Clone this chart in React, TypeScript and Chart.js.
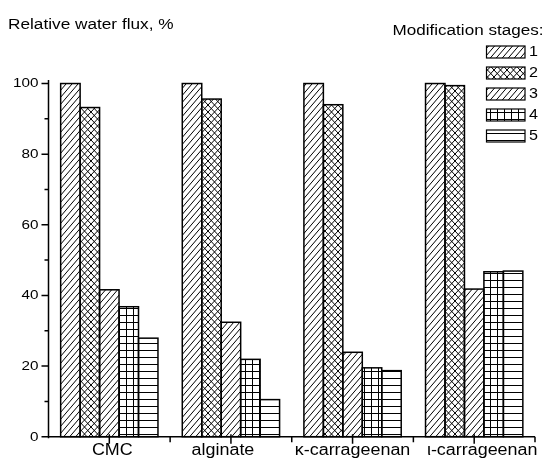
import { useEffect, useRef } from "react";
import { Chart, registerables } from "chart.js";

Chart.register(...registerables);

// ---- data ----
const categories = ["CMC", "alginate", "\u03BA-carrageenan", "\u03B9-carrageenan"];
const stageLabels = ["1", "2", "3", "4", "5"];
const stage1 = [100, 100, 100, 100];
const stage2 = [93.2, 95.6, 94.0, 99.4];
const stage3 = [41.6, 32.4, 23.9, 41.8];
const stage4 = [36.8, 21.9, 19.5, 46.7];
const stage5 = [27.9, 10.5, 18.7, 46.9];
const yTickValues = [0, 20, 40, 60, 80, 100];
const yMinorTickValues = [10, 30, 50, 70, 90];
const yAxisTitle = "Relative water flux, %";
const legendTitle = "Modification stages:";

const FONT = '"Liberation Sans", Arial, sans-serif';

function makePattern(kind: string): CanvasPattern {
  const c = document.createElement("canvas");
  let w = 7;
  let h = 7;
  if (kind === "diag1") { w = 6; h = 7; }
  if (kind === "diag3") { w = 6; h = 7; }
  if (kind === "cross") { w = 13; h = 14; }
  if (kind === "grid") { w = 7; h = 7; }
  if (kind === "hline") { w = 4; h = 7; }
  c.width = w;
  c.height = h;
  const g = c.getContext("2d")!;
  g.fillStyle = "#fff";
  g.fillRect(0, 0, w, h);
  g.strokeStyle = "#000";
  g.lineWidth = 1;
  g.beginPath();
  if (kind === "diag1" || kind === "diag3") {
    for (const x0 of [-w, 0, w]) {
      g.moveTo(x0, h);
      g.lineTo(x0 + w, 0);
    }
  } else if (kind === "cross") {
    for (let k = -3; k <= 3; k++) {
      const x0 = k * 6.5;
      g.moveTo(x0, 0);
      g.lineTo(x0 + 13, 14);
      g.moveTo(x0, 14);
      g.lineTo(x0 + 13, 0);
    }
  } else if (kind === "grid") {
    g.moveTo(0.5, 0);
    g.lineTo(0.5, h);
    g.moveTo(0, 0.5);
    g.lineTo(w, 0.5);
  } else if (kind === "hline") {
    g.moveTo(0, 0.5);
    g.lineTo(w, 0.5);
  }
  g.stroke();
  return g.createPattern(c, "repeat")!;
}

function drawText(
  ctx: CanvasRenderingContext2D,
  text: string,
  x: number,
  y: number,
  size: number,
  sx: number,
  align: CanvasTextAlign,
  baseline: CanvasTextBaseline
) {
  ctx.save();
  ctx.translate(x, y);
  ctx.scale(sx, 1);
  ctx.font = `${size}px ${FONT}`;
  ctx.fillStyle = "#000";
  ctx.textAlign = align;
  ctx.textBaseline = baseline;
  ctx.fillText(text, 0, 0);
  ctx.restore();
}

export default function App() {
  const ref = useRef<HTMLCanvasElement | null>(null);

  useEffect(() => {
    if (!ref.current) return;
    const patterns = [
      makePattern("diag1"),
      makePattern("cross"),
      makePattern("diag3"),
      makePattern("grid"),
      makePattern("hline"),
    ];
    const series = [stage1, stage2, stage3, stage4, stage5];
    const labelOffsets = [3, -8, 0, 8];

    const overlay = {
      id: "overlay",
      afterDatasetsDraw(chart: any) {
        const ctx: CanvasRenderingContext2D = chart.ctx;
        ctx.save();
        ctx.strokeStyle = "#000";
        ctx.lineWidth = 1.5;
        chart.data.datasets.forEach((_ds: any, i: number) => {
          const meta = chart.getDatasetMeta(i);
          meta.data.forEach((el: any) => {
            const p = el.getProps(["x", "y", "base", "width"], true);
            ctx.strokeRect(p.x - p.width / 2, p.y, p.width, p.base - p.y);
          });
        });
        ctx.restore();
      },
      afterDraw(chart: any) {
        const ctx: CanvasRenderingContext2D = chart.ctx;
        const xs = chart.scales.x;
        const ys = chart.scales.y;
        const area = chart.chartArea;
        const left = area.left;
        const bottom = ys.getPixelForValue(0);
        ctx.save();
        ctx.strokeStyle = "#000";
        ctx.lineWidth = 1.5;
        // axes
        ctx.beginPath();
        ctx.moveTo(left, area.top);
        ctx.lineTo(left, bottom + 1.5);
        ctx.moveTo(left, bottom);
        ctx.lineTo(area.right, bottom);
        // y ticks
        yTickValues.forEach((v) => {
          const py = ys.getPixelForValue(v);
          ctx.moveTo(left - 7, py);
          ctx.lineTo(left, py);
        });
        yMinorTickValues.forEach((v) => {
          const py = ys.getPixelForValue(v);
          ctx.moveTo(left - 4, py);
          ctx.lineTo(left, py);
        });
        // x ticks
        categories.forEach((_c, i) => {
          const cx = xs.getPixelForValue(i);
          ctx.moveTo(cx, bottom - 2.5);
          ctx.lineTo(cx, bottom + 7);
          const bx = xs.getPixelForValue(i + 0.5);
          ctx.moveTo(bx, bottom);
          ctx.lineTo(bx, bottom + 5.5);
        });
        ctx.stroke();
        ctx.restore();

        // y labels
        yTickValues.forEach((v) => {
          const py = ys.getPixelForValue(v);
          drawText(ctx, String(v), left - 10, py + 0.5, 12.5, 1.22, "right", "middle");
        });
        // x labels
        categories.forEach((c, i) => {
          const cx = xs.getPixelForValue(i) + labelOffsets[i];
          drawText(ctx, c, cx, 454.5, 16, 1.12, "center", "alphabetic");
        });
        // titles
        drawText(ctx, yAxisTitle, 8, 28.5, 14, 1.23, "left", "alphabetic");
        drawText(ctx, legendTitle, 392.5, 34.5, 14, 1.22, "left", "alphabetic");
        // legend
        stageLabels.forEach((lab, i) => {
          const top = 46 + 21 * i;
          ctx.save();
          ctx.fillStyle = patterns[i];
          ctx.fillRect(486.5, top, 38.5, 12);
          ctx.strokeStyle = "#000";
          ctx.lineWidth = 1.2;
          ctx.strokeRect(486.5, top, 38.5, 12);
          ctx.restore();
          drawText(ctx, lab, 529, top + 6.5, 14, 1.15, "left", "middle");
        });
      },
    };

    const chart = new Chart(ref.current, {
      type: "bar",
      data: {
        labels: categories,
        datasets: series.map((d, i) => ({
          label: stageLabels[i],
          data: d,
          backgroundColor: patterns[i] as any,
          borderWidth: 0,
          categoryPercentage: 0.8,
          barPercentage: 1.0,
        })),
      },
      options: {
        animation: false,
        responsive: true,
        maintainAspectRatio: false,
        layout: { padding: { left: 0, right: 10, top: 80, bottom: 0 } },
        plugins: {
          legend: { display: false },
          tooltip: { enabled: false },
          title: { display: false },
        },
        scales: {
          x: {
            type: "category",
            offset: true,
            grid: { display: false },
            border: { display: false },
            ticks: { display: false },
            afterFit: (s: any) => {
              s.height = 21.3;
            },
          },
          y: {
            min: 0,
            max: 101,
            grid: { display: false },
            border: { display: false },
            ticks: { display: false },
            afterFit: (s: any) => {
              s.width = 48.5;
            },
          },
        },
      },
      plugins: [overlay],
    });
    return () => chart.destroy();
  }, []);

  return (
    <div style={{ position: "absolute", left: 0, top: 0, width: 545, height: 458, background: "#fff" }}>
      <canvas ref={ref} />
    </div>
  );
}
